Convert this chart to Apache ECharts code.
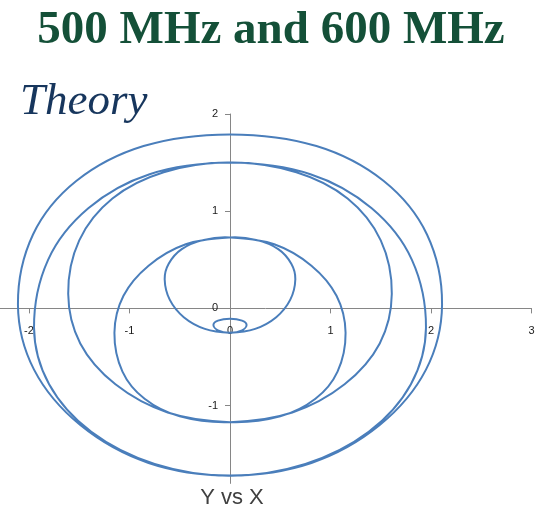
<!DOCTYPE html>
<html>
<head>
<meta charset="utf-8">
<script src="https://cdn.jsdelivr.net/npm/echarts@6/dist/echarts.min.js"></script>
<style>
html,body{margin:0;padding:0;background:#fff}
#chart{width:538px;height:516px}
</style>
</head>
<body>
<div id="chart"></div>
<script>
// tick labels
var xTicks = [-2, -1, 0, 1, 2, 3];
var yTicks = [-1, 0, 1, 2];

// curve, one half-loop at a time (L = left half, R = right half)
var loop1L = [[0,1.79],[-0.86,1.67],[-1.53,1.31],[-1.96,0.76],[-2.11,0.04],[-1.95,-0.63],[-1.49,-1.20],[-0.81,-1.59],[0,-1.72]];
var loop2R = [[0,-1.72],[0.75,-1.60],[1.38,-1.27],[1.80,-0.78],[1.95,-0.20],[1.81,0.50],[1.41,1.03],[0.80,1.38],[0,1.50]];
var loop3L = [[0,1.50],[-0.66,1.40],[-1.17,1.13],[-1.50,0.70],[-1.61,0.15],[-1.49,-0.36],[-1.14,-0.78],[-0.62,-1.07],[0,-1.17]];
var loop4R = [[0,-1.17],[0.50,-1.11],[0.85,-0.93],[1.07,-0.65],[1.15,-0.25],[1.06,0.13],[0.81,0.44],[0.44,0.66],[0,0.73]];
var loop5L = [[0,0.73],[-0.26,0.705],[-0.48,0.61],[-0.61,0.46],[-0.65,0.30],[-0.60,0.09],[-0.46,-0.09],[-0.25,-0.21],[0,-0.25]];
var loop6R = [[0,-0.25],[0.12,-0.225],[0.165,-0.17],[0.12,-0.125],[0,-0.105]];
var loop6L = [[0,-0.105],[-0.12,-0.125],[-0.165,-0.17],[-0.12,-0.225],[0,-0.25]];
var loop5R = [[0,-0.25],[0.25,-0.21],[0.46,-0.09],[0.60,0.09],[0.65,0.30],[0.61,0.46],[0.48,0.61],[0.26,0.705],[0,0.73]];
var loop4L = [[0,0.73],[-0.44,0.66],[-0.81,0.44],[-1.06,0.13],[-1.15,-0.25],[-1.07,-0.65],[-0.85,-0.93],[-0.50,-1.11],[0,-1.17]];
var loop3R = [[0,-1.17],[0.62,-1.07],[1.14,-0.78],[1.49,-0.36],[1.61,0.15],[1.50,0.70],[1.17,1.13],[0.66,1.40],[0,1.50]];
var loop2L = [[0,1.50],[-0.80,1.38],[-1.41,1.03],[-1.81,0.50],[-1.95,-0.20],[-1.80,-0.78],[-1.38,-1.27],[-0.75,-1.60],[0,-1.72]];
var loop1R = [[0,-1.72],[0.81,-1.59],[1.49,-1.20],[1.95,-0.63],[2.11,0.04],[1.96,0.76],[1.53,1.31],[0.86,1.67],[0,1.79]];

// spiral in, then back out; the last point equals the first, so it is dropped and the shape closed
var halves = [loop1L, loop2R, loop3L, loop4R, loop5L, loop6R, loop6L, loop5R, loop4L, loop3R, loop2L, loop1R];
var path = loop1L.slice();
for (var i = 1; i < halves.length; i++) {
    path = path.concat(halves[i].slice(1));
}
path.pop();

var axisGray = '#868686';
var labelFont = {color: '#1a1a1a', fontSize: 11, fontFamily: '"Liberation Sans", Arial, sans-serif'};

// grid: x -3..3 (the -3 end sits off the left edge), y -1.8..2
var gridTop = 114, gridBottom = 32.6, gridLeft = -71.5, gridRight = 6.5;

var chart = echarts.init(document.getElementById('chart'));
chart.setOption({
    animation: false,
    backgroundColor: '#fff',
    title: [
        {
            text: '500 MHz and 600 MHz',
            left: 271, top: 7, padding: 0, textAlign: 'center',
            textStyle: {color: '#145038', fontSize: 47, fontWeight: 'bold', fontFamily: '"Liberation Serif", "Times New Roman", serif'}
        },
        {
            text: 'Theory',
            left: 20, top: 80, padding: 0,
            textStyle: {color: '#17365d', fontSize: 45, fontStyle: 'italic', fontWeight: 'normal', fontFamily: '"Liberation Serif", "Times New Roman", serif'}
        },
        {
            text: 'Y vs X',
            left: 232, top: 487, padding: 0, textAlign: 'center',
            textStyle: {color: '#404040', fontSize: 22, fontWeight: 'normal', fontFamily: '"Liberation Sans", Arial, sans-serif'}
        }
    ],
    grid: {left: gridLeft, right: gridRight, top: gridTop, bottom: gridBottom, outerBoundsMode: 'none', containLabel: false},
    xAxis: {
        type: 'value', min: -3, max: 3, position: 'bottom', offset: -175,
        axisLine: {onZero: false, lineStyle: {color: axisGray, width: 1}},
        axisTick: {length: 5, customValues: xTicks, lineStyle: {color: axisGray}},
        axisLabel: Object.assign({margin: 17, customValues: xTicks}, labelFont),
        splitLine: {show: false}
    },
    yAxis: {
        type: 'value', min: -1.8, max: 2, position: 'left', offset: -301.5,
        axisLine: {show: true, onZero: false, lineStyle: {color: axisGray, width: 1}},
        axisTick: {show: true, length: 5, customValues: yTicks, lineStyle: {color: axisGray}},
        axisLabel: Object.assign({margin: 12, customValues: yTicks}, labelFont),
        splitLine: {show: false}
    },
    series: [{
        name: 'Y',
        type: 'custom',
        data: path,
        encode: {x: 0, y: 1},
        renderItem: function (params, api) {
            // the whole closed curve is drawn once, from every point through the axes
            if (params.dataIndexInside !== 0) {
                return;
            }
            var pts = [];
            for (var k = 0; k < params.dataInsideLength; k++) {
                pts.push(api.coord([api.value(0, k), api.value(1, k)]));
            }
            return {
                type: 'polygon',
                shape: {points: pts, smooth: 0.35},
                style: {fill: 'none', stroke: '#4a7ebb', lineWidth: 2}
            };
        }
    }]
});
</script>
</body>
</html>
